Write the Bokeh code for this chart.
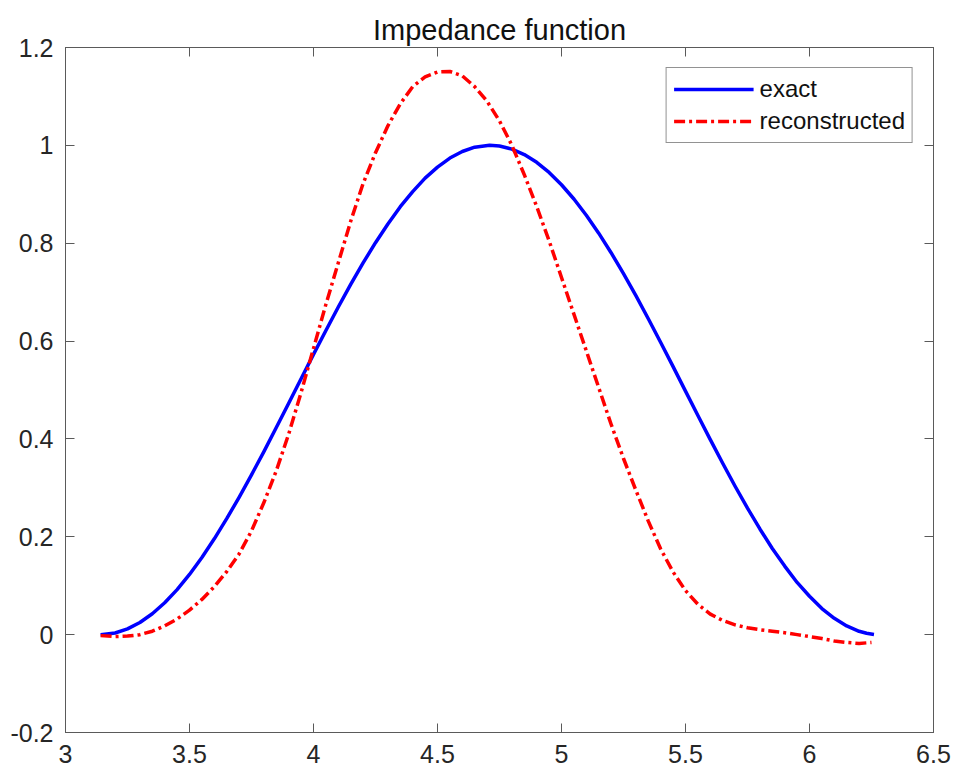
from bokeh.plotting import figure
from bokeh.models import (Range1d, FixedTicker, PrintfTickFormatter, CustomJSTickFormatter,
                          LinearAxis, Legend, LegendItem)
from bokeh.embed import file_html
from bokeh.resources import INLINE

# ---- data ----
x_exact = [3.1416, 3.2, 3.25, 3.3, 3.35, 3.4, 3.45, 3.5, 3.55, 3.6, 3.65, 3.7, 3.75, 3.8,
           3.85, 3.9, 3.95, 4.0, 4.05, 4.1, 4.15, 4.2, 4.25, 4.3, 4.35, 4.4, 4.45, 4.5,
           4.55, 4.6, 4.65, 4.71, 4.75, 4.8, 4.85, 4.9, 4.95, 5.0, 5.05, 5.1, 5.15, 5.2,
           5.25, 5.3, 5.35, 5.4, 5.45, 5.5, 5.55, 5.6, 5.65, 5.7, 5.75, 5.8, 5.85, 5.9,
           5.95, 6.0, 6.05, 6.1, 6.15, 6.2, 6.23, 6.26]
y_exact = [0.0, 0.0034, 0.0117, 0.0249, 0.0428, 0.0653, 0.0921, 0.1231, 0.1577, 0.1958,
           0.2370, 0.2807, 0.3267, 0.3741, 0.4233, 0.4729, 0.5230, 0.5728, 0.6217, 0.6696,
           0.7157, 0.7597, 0.8011, 0.8394, 0.8746, 0.9055, 0.9330, 0.9555, 0.9740, 0.9875,
           0.9963, 1.0, 0.9986, 0.9924, 0.9811, 0.9653, 0.9446, 0.9195, 0.8904, 0.8571,
           0.8205, 0.7806, 0.7377, 0.6927, 0.6456, 0.5972, 0.5478, 0.4977, 0.4480, 0.3985,
           0.3502, 0.3033, 0.2584, 0.2160, 0.1761, 0.1401, 0.1067, 0.0785, 0.0533, 0.0333,
           0.0177, 0.0069, 0.0028, 0.0005]

x_recon = [3.1416, 3.2, 3.25, 3.3, 3.35, 3.4, 3.45, 3.5, 3.55, 3.6, 3.65, 3.7, 3.75, 3.8,
           3.85, 3.9, 3.95, 4.0, 4.05, 4.1, 4.15, 4.2, 4.25, 4.3, 4.35, 4.4, 4.45, 4.5,
           4.55, 4.6, 4.65, 4.7, 4.75, 4.8, 4.85, 4.9, 4.95, 5.0, 5.05, 5.1, 5.15, 5.2,
           5.25, 5.3, 5.35, 5.4, 5.45, 5.5, 5.55, 5.6, 5.65, 5.7, 5.75, 5.8, 5.85, 5.9,
           5.95, 6.0, 6.05, 6.1, 6.15, 6.2, 6.25]
y_recon = [-0.002, -0.004, -0.003, 0.0, 0.007, 0.018, 0.032, 0.05, 0.072, 0.098, 0.129,
           0.165, 0.212, 0.27, 0.335, 0.41, 0.495, 0.585, 0.675, 0.76, 0.845, 0.922, 0.985,
           1.04, 1.085, 1.12, 1.14, 1.15, 1.151, 1.142, 1.12, 1.09, 1.05, 1.0, 0.94, 0.875,
           0.805, 0.73, 0.655, 0.58, 0.505, 0.43, 0.36, 0.295, 0.232, 0.175, 0.128, 0.09,
           0.062, 0.042, 0.029, 0.02, 0.014, 0.01, 0.007, 0.004, 0.0, -0.004, -0.008,
           -0.013, -0.016, -0.018, -0.016]

x_ticks = [3, 3.5, 4, 4.5, 5, 5.5, 6, 6.5]
y_ticks = [-0.2, 0, 0.2, 0.4, 0.6, 0.8, 1, 1.2]

series_names = ["exact", "reconstructed"]
title_text = "Impedance function"

FONT = "Liberation Sans"
AX = "#5a5a5a"
TXT = "#262626"

p = figure(width=956, height=782, output_backend="svg", toolbar_location=None,
           x_range=Range1d(3, 6.5), y_range=Range1d(-0.2, 1.2),
           x_axis_location=None, y_axis_location=None,
           min_border_left=65, min_border_right=23, min_border_top=47, min_border_bottom=50)
p.grid.visible = False
p.outline_line_color = AX
p.outline_line_width = 1
p.background_fill_color = "white"
p.border_fill_color = "white"

p.title.text = title_text
p.title.align = "center"
p.title.text_font = FONT
p.title.text_font_size = "29px"
p.title.text_font_style = "normal"
p.title.text_color = "#111111"
p.title.standoff = 4


def make_axis(ticks, show_labels):
    if show_labels:
        fmt = PrintfTickFormatter(format="%g")
    else:
        fmt = CustomJSTickFormatter(code="return '';")
    ax = LinearAxis(ticker=FixedTicker(ticks=ticks), formatter=fmt)
    ax.axis_line_color = AX
    ax.major_tick_line_color = AX
    ax.major_tick_in = 9
    ax.major_tick_out = 0
    ax.minor_tick_line_color = None
    ax.major_label_text_font = FONT
    ax.major_label_text_color = TXT
    ax.major_label_text_font_size = "25px"
    ax.major_label_standoff = 12 if show_labels else 0
    return ax


p.add_layout(make_axis(x_ticks, True), "below")
p.add_layout(make_axis(y_ticks, True), "left")
p.add_layout(make_axis(x_ticks, False), "above")
p.add_layout(make_axis(y_ticks, False), "right")

r1 = p.line(x_exact, y_exact, line_color="#0000ff", line_width=3.5, line_join="round")
r2 = p.line(x_recon, y_recon, line_color="#ff0000", line_width=3.5, line_join="round",
            line_dash="11 4 3 4")

legend = Legend(items=[LegendItem(label=series_names[0], renderers=[r1]),
                       LegendItem(label=series_names[1], renderers=[r2])],
                location="top_right")
legend.margin = 20
legend.padding = 7
legend.spacing = 4
legend.glyph_width = 80
legend.glyph_height = 24
legend.label_height = 24
legend.label_standoff = 6
legend.label_text_font = FONT
legend.label_text_font_size = "24px"
legend.label_text_color = "#111111"
legend.border_line_color = TXT
legend.border_line_width = 1
legend.background_fill_color = "white"
legend.background_fill_alpha = 1
p.add_layout(legend, "center")

open("out.html", "w").write(file_html(p, INLINE))
